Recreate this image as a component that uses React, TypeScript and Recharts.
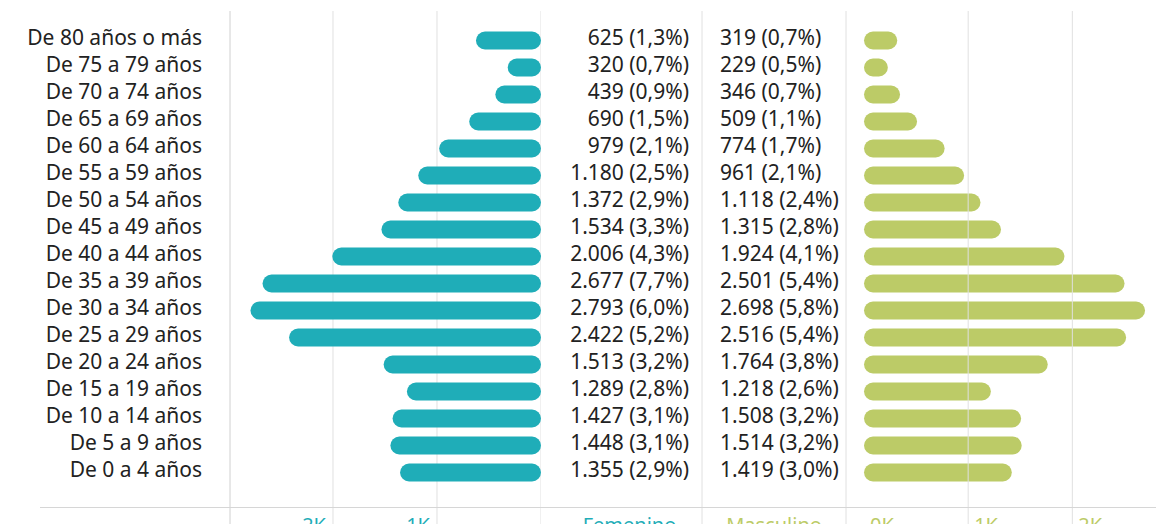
import { BarChart, Bar, XAxis, YAxis, CartesianGrid, ReferenceLine, Label } from 'recharts'

const TEAL = '#1fadb8'
const GREEN = '#bccb67'
const GRID = '#e0e0e0'
const FONT = '"Noto Sans", sans-serif'

const ages = [
  'De 80 años o más', 'De 75 a 79 años', 'De 70 a 74 años', 'De 65 a 69 años',
  'De 60 a 64 años', 'De 55 a 59 años', 'De 50 a 54 años', 'De 45 a 49 años',
  'De 40 a 44 años', 'De 35 a 39 años', 'De 30 a 34 años', 'De 25 a 29 años',
  'De 20 a 24 años', 'De 15 a 19 años', 'De 10 a 14 años', 'De 5 a 9 años',
  'De 0 a 4 años',
]
const femenino = [625, 320, 439, 690, 979, 1180, 1372, 1534, 2006, 2677, 2793, 2422, 1513, 1289, 1427, 1448, 1355]
const femeninoPct = [1.3, 0.7, 0.9, 1.5, 2.1, 2.5, 2.9, 3.3, 4.3, 7.7, 6.0, 5.2, 3.2, 2.8, 3.1, 3.1, 2.9]
const masculino = [319, 229, 346, 509, 774, 961, 1118, 1315, 1924, 2501, 2698, 2516, 1764, 1218, 1508, 1514, 1419]
const masculinoPct = [0.7, 0.5, 0.7, 1.1, 1.7, 2.1, 2.4, 2.8, 4.1, 5.4, 5.8, 5.4, 3.8, 2.6, 3.2, 3.2, 3.0]
const xTicks = [0, 1000, 2000]

const fmtNum = (v: number) => String(v).replace(/\B(?=(\d{3})+(?!\d))/g, '.')
const fmtPct = (v: number) => v.toFixed(1).replace('.', ',')

const data = ages.map((age, i) => ({
  age,
  f: femenino[i],
  m: masculino[i],
  fLabel: `${fmtNum(femenino[i])} (${fmtPct(femeninoPct[i])}%)`,
  mLabel: `${fmtNum(masculino[i])} (${fmtPct(masculinoPct[i])}%)`,
}))
const fLabels = Object.fromEntries(data.map((d) => [d.age, d.fLabel]))
const mLabels = Object.fromEntries(data.map((d) => [d.age, d.mLabel]))

const yPad = { top: 15.5, bottom: 46.5 }
const margin = { top: 11, right: 0, bottom: 0, left: 0 }

function RowText({ x, y, text, anchor }: { x: number; y: number; text: string; anchor: 'start' | 'end' }) {
  return (
    <text x={x} y={y} dy={5} textAnchor={anchor} fill="#222" fontSize={21} fontFamily={FONT}>
      {text}
    </text>
  )
}

export default function App() {
  return (
    <div style={{ position: 'relative', width: 1164, height: 532, margin: -8, overflow: 'hidden', background: '#fff', fontFamily: FONT }}>
      <div style={{ position: 'absolute', left: 0, top: 0 }}>
        <BarChart width={541} height={532} layout="vertical" data={data} margin={margin}>
          <CartesianGrid horizontal={false} stroke={GRID} />
          <XAxis
            type="number"
            domain={[0, 2990]}
            reversed
            ticks={xTicks}
            mirror
            axisLine={false}
            tickLine={false}
            tickSize={0}
            tickMargin={0}
            tick={(p: any) => (
              <text x={p.x - 7} y={p.y} textAnchor="end" fill={TEAL} fontSize={20} fontFamily={FONT}>
                {p.payload.value / 1000}K
              </text>
            )}
          />
          <YAxis
            type="category"
            dataKey="age"
            width={230}
            padding={yPad}
            interval={0}
            axisLine={{ stroke: GRID }}
            tickLine={false}
            tickSize={0}
            tickMargin={28}
            tick={(p: any) => <RowText x={p.x} y={p.y} text={p.payload.value} anchor="end" />}
          />
          <Bar dataKey="f" fill={TEAL} barSize={18} radius={9} isAnimationActive={false} />
        </BarChart>
      </div>

      <div style={{ position: 'absolute', left: 541, top: 0 }}>
        <BarChart width={623} height={532} layout="vertical" data={data} margin={margin}>
          <XAxis
            type="number"
            domain={[0, 2880]}
            ticks={xTicks}
            padding={{ left: 18, right: 0 }}
            mirror
            axisLine={false}
            tickLine={false}
            tickSize={0}
            tickMargin={0}
            tick={(p: any) => (
              <text x={p.x + 6} y={p.y} textAnchor="start" fill={GREEN} fontSize={20} fontFamily={FONT}>
                {p.payload.value / 1000}K
              </text>
            )}
          />
          <YAxis
            type="category"
            dataKey="age"
            width={144}
            padding={yPad}
            interval={0}
            axisLine={{ stroke: GRID }}
            tickLine={false}
            tickSize={0}
            tickMargin={126}
            tick={(p: any) => <RowText x={p.x} y={p.y} text={mLabels[p.payload.value]} anchor="start" />}
          >
            <Label value="Masculino" position="insideBottom" offset={0} fill={GREEN} fontSize={20} fontFamily={FONT} />
          </YAxis>
          <YAxis
            yAxisId="f"
            type="category"
            dataKey="age"
            width={161}
            padding={yPad}
            interval={0}
            axisLine={{ stroke: GRID }}
            tickLine={false}
            tickSize={0}
            tickMargin={13}
            tick={(p: any) => <RowText x={p.x} y={p.y} text={fLabels[p.payload.value]} anchor="end" />}
          >
            <Label value="Femenino" position="insideBottom" offset={0} dx={8} fill={TEAL} fontSize={20} fontFamily={FONT} />
          </YAxis>
          <ReferenceLine x={1000} stroke={GRID} />
          <ReferenceLine x={2000} stroke={GRID} />
          <Bar dataKey="m" fill={GREEN} barSize={18} radius={9} isAnimationActive={false} />
        </BarChart>
      </div>

      <div style={{ position: 'absolute', left: 40, top: 507, width: 1124, height: 1, background: '#d6d6d6' }} />
      <svg width={200} height={20} style={{ position: 'absolute', left: 0, top: 0 }}>
        <text x={26} y={6} fontSize={25} fontWeight={700} fill="#222" fontFamily={FONT}>
          a. Chocó
        </text>
      </svg>
    </div>
  )
}
